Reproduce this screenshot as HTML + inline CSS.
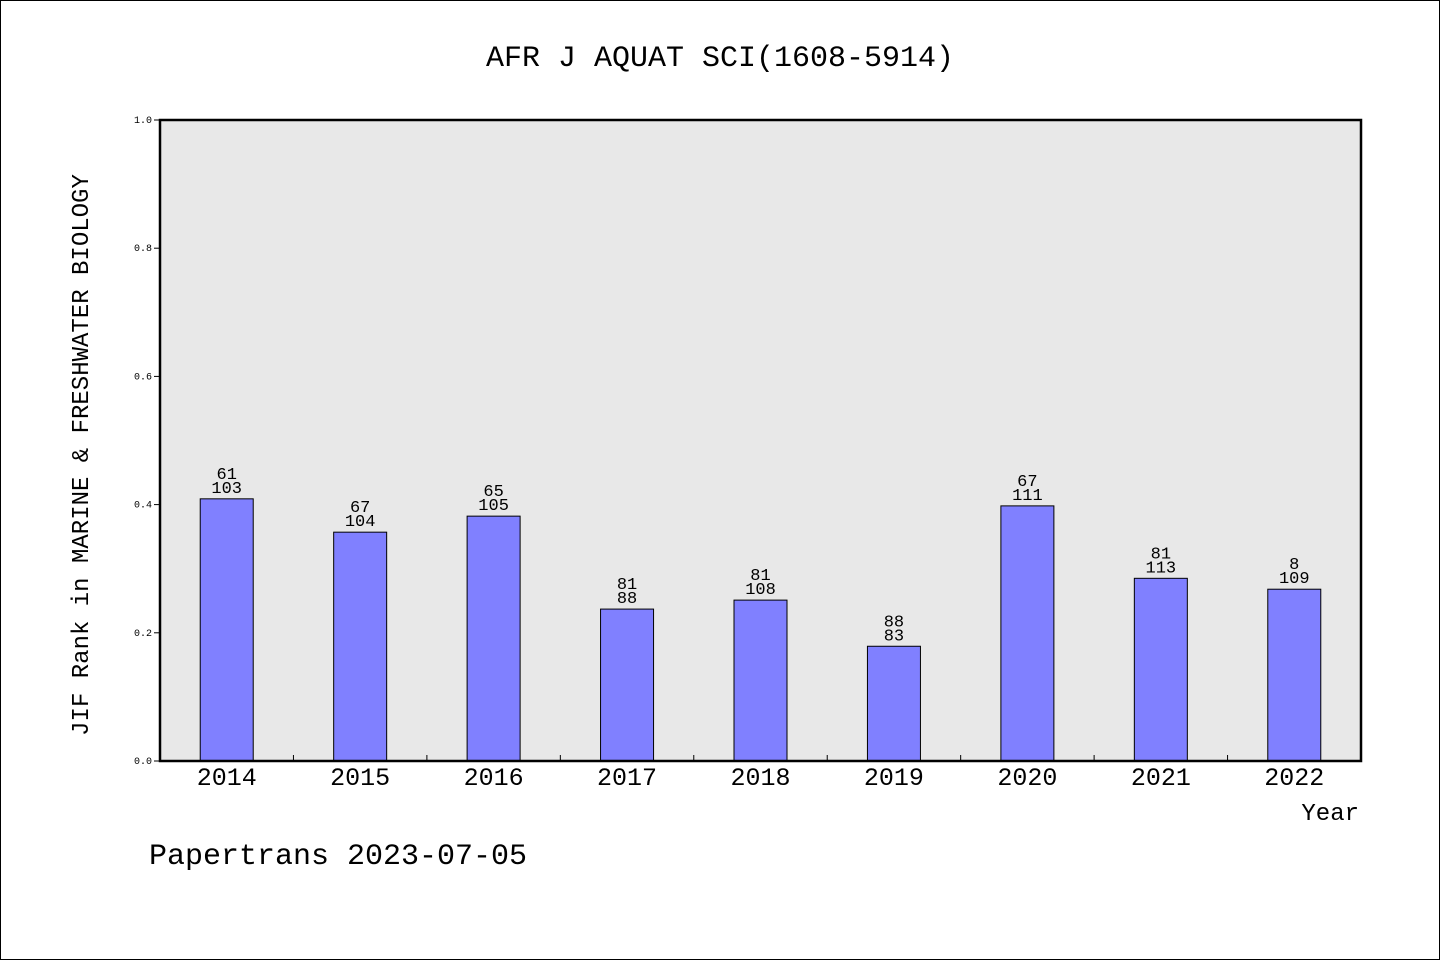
<!DOCTYPE html>
<html><head><meta charset="utf-8"><style>
body{margin:0;background:#fff}
svg{display:block}
text{font-family:"Liberation Mono","DejaVu Sans Mono",monospace;fill:#000}
</style></head><body>
<svg id="chart" width="1440" height="960">
<rect x="0.5" y="0.5" width="1439" height="959" fill="#fff" stroke="#000"/>
<text x="720" y="66" font-size="30" text-anchor="middle">AFR J AQUAT SCI(1608-5914)</text>
<rect x="160" y="120" width="1201" height="641" fill="#e8e8e8"/>
<g id="marks"></g>
<rect x="160" y="120" width="1201" height="641" fill="none" stroke="#000" stroke-width="2.5"/>
<text transform="translate(88,455) rotate(-90)" font-size="24" text-anchor="middle">JIF Rank in MARINE &amp; FRESHWATER BIOLOGY</text>
<text x="1359" y="820" font-size="24" text-anchor="end">Year</text>
<text x="149" y="864" font-size="30">Papertrans 2023-07-05</text>
</svg>
<script>
const categories=["2014","2015","2016","2017","2018","2019","2020","2021","2022"];
const values=[0.409,0.357,0.382,0.237,0.251,0.179,0.398,0.285,0.268];
const ranks=["61","67","65","81","81","88","67","81","8"];
const totals=["103","104","105","88","108","83","111","113","109"];
const yTicks=[0,0.2,0.4,0.6,0.8,1.0];
const NS="http://www.w3.org/2000/svg";
const g=document.getElementById('marks');
const x0=160,x1=1361,y0=761,y1=120;
const band=(x1-x0)/categories.length;
const xc=i=>x0+band*(i+0.5);
const ys=v=>y0-(v)*(y0-y1);
function mk(t,a){const e=document.createElementNS(NS,t);for(const k in a)e.setAttribute(k,a[k]);g.appendChild(e);return e;}
yTicks.forEach(v=>{
  const l=mk('line',{x1:154,x2:160,y1:ys(v),y2:ys(v),stroke:'#000'});
  
  
  const t=mk('text',{x:152,y:ys(v)+3,'font-size':10,'text-anchor':'end'});t.textContent=v.toFixed(1);
  
  
});
for(let i=1;i<categories.length;i++){
  const l=mk('line',{x1:x0+band*i,x2:x0+band*i,y1:755,y2:761,stroke:'#000'});
  
  
}
categories.forEach((c,i)=>{
  const bw=53,top=ys(values[i]);
  const r=mk('rect',{x:xc(i)-bw/2,y:top,width:bw,height:y0-top,fill:'#8080ff',stroke:'#000','stroke-width':1});
  
  
  const t1=mk('text',{x:xc(i),y:top-20,'font-size':17,'text-anchor':'middle'});t1.textContent=ranks[i];
  
  
  const t2=mk('text',{x:xc(i),y:top-6,'font-size':17,'text-anchor':'middle'});t2.textContent=totals[i];
  
  
  const t3=mk('text',{x:xc(i),y:785,'font-size':25,'text-anchor':'middle'});t3.textContent=c;
  
  
});
</script>
</body></html>
